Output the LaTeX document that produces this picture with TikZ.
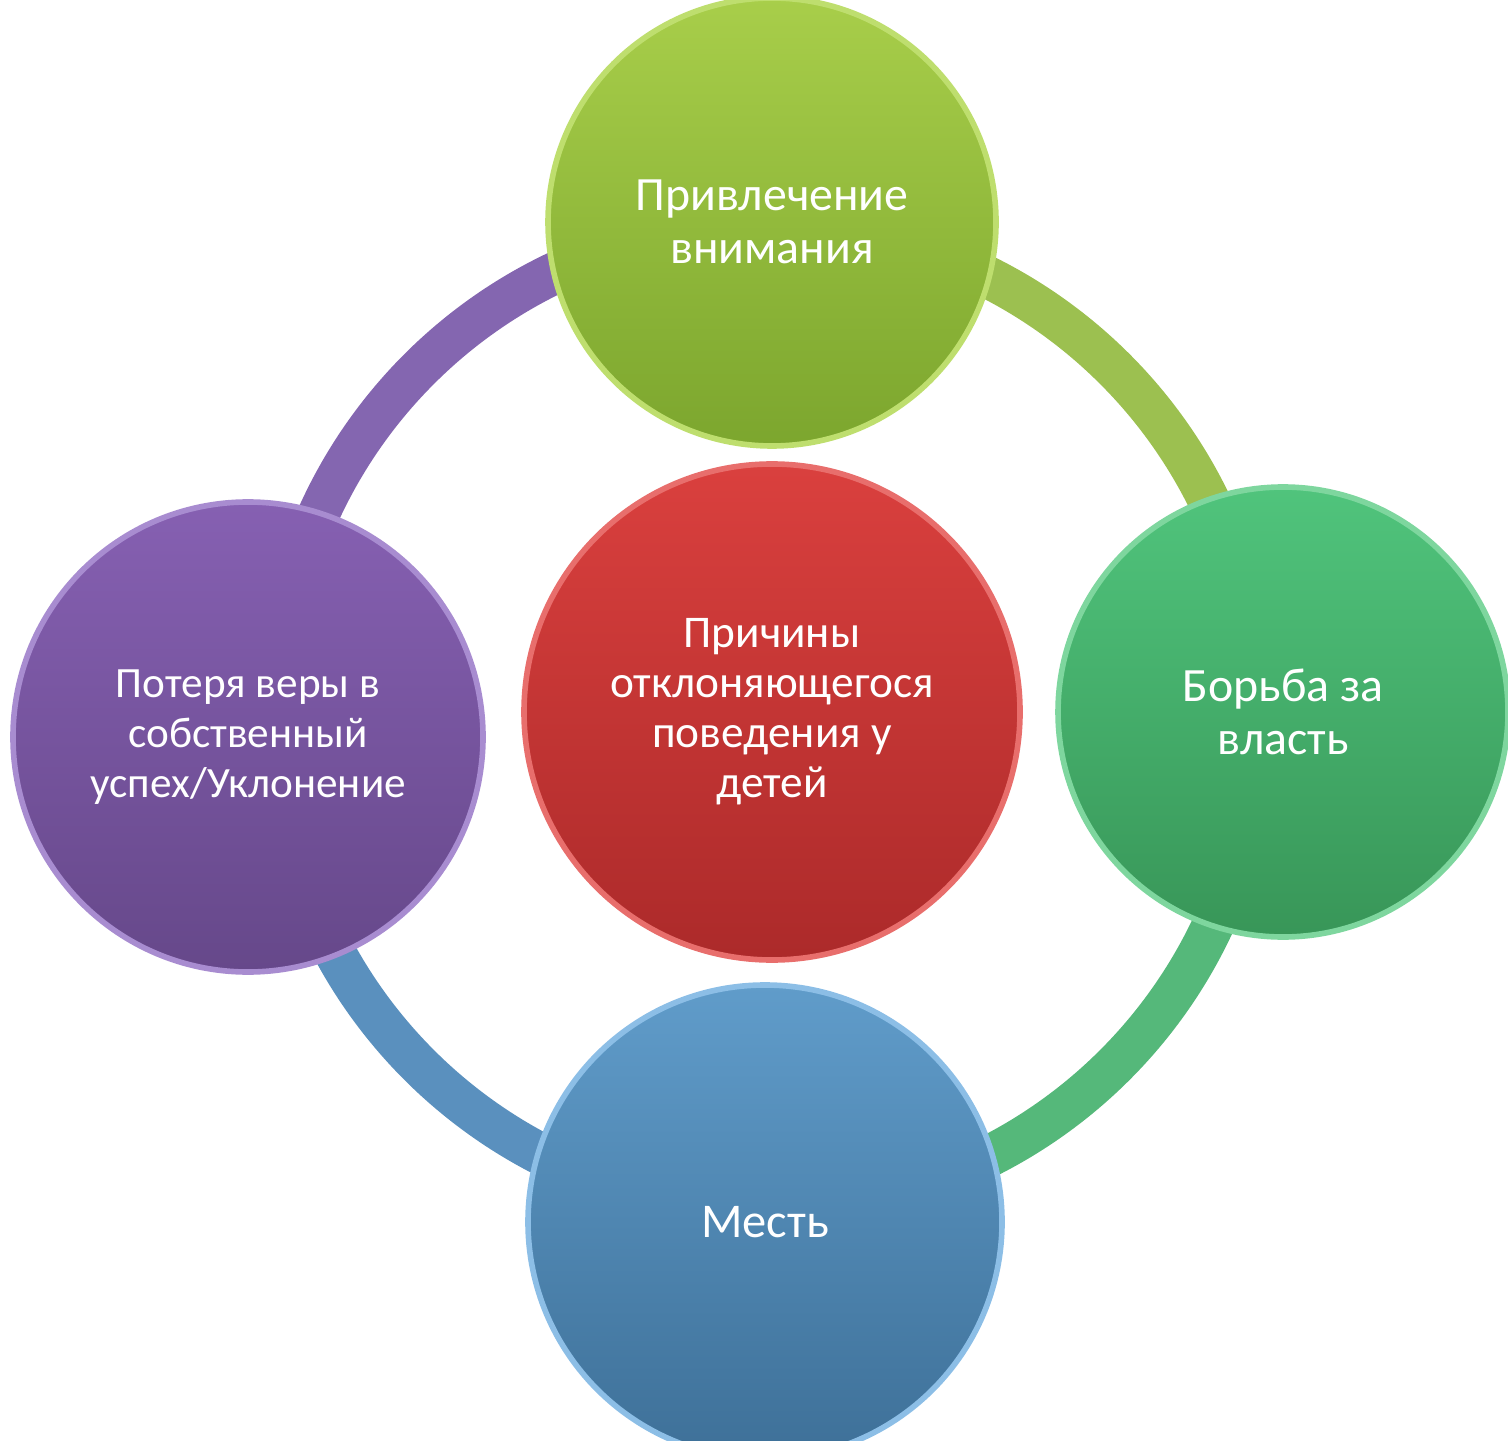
\documentclass[tikz,border=0pt]{standalone}
\usepackage{fontspec}
\setmainfont{Carlito}

\definecolor{ringpurple}{HTML}{8466B0}
\definecolor{ringlime}{HTML}{9CC050}
\definecolor{ringgreen}{HTML}{55B87A}
\definecolor{ringblue}{HTML}{5A90BE}

\tikzset{
    cause/.style={circle, text=white, align=center, inner sep=0pt,
        font=\fontsize{13.6}{15.1}\selectfont, line width=1.6pt},
    ring/.style={line width=0.42cm}
}

\begin{document}
\begin{tikzpicture}
    \useasboundingbox (0, 0) rectangle (15.08, 14.40);
    % Ring behind the circles
    \coordinate (hub) at (7.67, 7.23);
    \draw[ring, ringlime] (hub) ++(90:4.92) arc (90:0:4.92); % upper right
    \draw[ring, ringgreen] (hub) ++(0:4.92) arc (0:-90:4.92); % lower right
    \draw[ring, ringblue] (hub) ++(-90:4.92) arc (-90:-180:4.92); % lower left
    \draw[ring, ringpurple] (hub) ++(180:4.92) arc (180:90:4.92); % upper left

    % Outer circles
    \node[cause, minimum size=4.48cm, draw={rgb,255:red,190;green,222;blue,110},
        top color={rgb,255:red,168;green,206;blue,74}, bottom color={rgb,255:red,124;green,166;blue,46}]
        (attention) at (7.72, 12.18) {Привлечение\\внимания};
    \node[cause, minimum size=4.50cm, draw={rgb,255:red,126;green,214;blue,158},
        top color={rgb,255:red,80;green,196;blue,124}, bottom color={rgb,255:red,56;green,150;blue,88}]
        (power) at (12.83, 7.28) {Борьба за\\власть};
    \node[cause, minimum size=4.70cm, draw={rgb,255:red,168;green,140;blue,208},
        top color={rgb,255:red,134;green,96;blue,178}, bottom color={rgb,255:red,102;green,72;blue,138},
        font=\fontsize{12.3}{14.2}\selectfont]
        (avoid) at (2.48, 7.03) {Потеря веры в\\собственный\\успех/Уклонение};
    \node[cause, minimum size=4.74cm, draw={rgb,255:red,140;green,190;blue,230},
        top color={rgb,255:red,96;green,156;blue,202}, bottom color={rgb,255:red,62;green,112;blue,152},
        font=\fontsize{13.8}{15.1}\selectfont]
        (revenge) at (7.65, 2.18) {Месть};

    % Centre circle
    \node[cause, minimum size=4.96cm, draw={rgb,255:red,232;green,110;blue,108},
        top color={rgb,255:red,218;green,64;blue,62}, bottom color={rgb,255:red,172;green,42;blue,42},
        font=\fontsize{12.9}{14.2}\selectfont]
        (causes) at (7.72, 7.28) {Причины\\отклоняющегося\\поведения у\\детей};
\end{tikzpicture}
\end{document}
